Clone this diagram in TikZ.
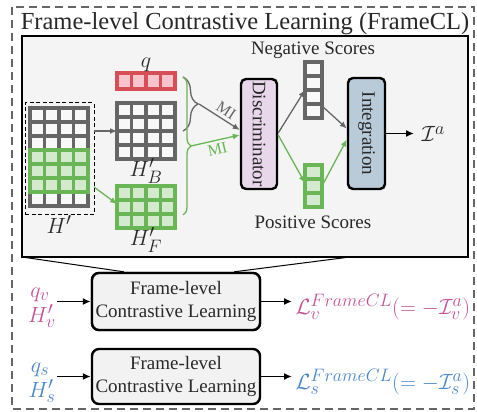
\RequirePackage{fix-cm}
\documentclass[tikz,border=0pt]{standalone}
\usepackage[no-math]{fontspec}
\setmainfont{Liberation Serif}
\usepackage{amsmath}
\usepackage{amssymb}
\usetikzlibrary{arrows.meta,calc,decorations.pathreplacing}
\DeclareMathSizes{22}{22}{18}{13}

\definecolor{lgray}{RGB}{102,102,102}
\definecolor{lgreen}{RGB}{106,182,86}
\definecolor{pgreen}{RGB}{212,234,206}
\definecolor{lred}{RGB}{214,78,86}
\definecolor{pred}{RGB}{248,196,204}
\definecolor{discfill}{RGB}{232,214,234}
\definecolor{intfill}{RGB}{185,202,216}
\definecolor{panel}{RGB}{244,244,244}
\definecolor{cellfill}{RGB}{248,248,248}
\definecolor{boxfill}{RGB}{242,242,242}
\definecolor{txt}{RGB}{40,40,40}
\definecolor{vpink}{RGB}{196,84,150}
\definecolor{sblue}{RGB}{74,136,200}

\tikzset{
  every node/.style={font=\fontsize{19}{23}\selectfont, text=txt},
  mathlab/.style={font=\fontsize{22}{26}\selectfont},
  milab/.style={font=\fontsize{16}{18}\selectfont, inner sep=3pt},
  cellgray/.style={draw=lgray, line width=3.2, fill=cellfill},
  cellgreen/.style={draw=lgreen, line width=3.2, fill=pgreen},
  cellred/.style={draw=lred, line width=3.2, fill=pred},
  blk/.style={inner sep=0, outer sep=0, draw=none},
  blockbox/.style={draw=black, line width=2.4, rounded corners=5pt, inner sep=0},
  fclbox/.style={draw=black, line width=2.4, rounded corners=7pt, fill=boxfill,
    minimum width=168pt, align=center, inner sep=0},
  garrow/.style={draw=lgray, line width=1.3, -{Latex[length=7pt,width=6pt]}},
  grarrow/.style={draw=lgreen, line width=1.3, -{Latex[length=7pt,width=6pt]}},
  barrow/.style={draw=black, line width=1.6, -{Latex[length=8pt,width=7pt]}},
}

\begin{document}
\begin{tikzpicture}[x=1pt,y=1pt,yscale=-1,xscale=1]
\useasboundingbox (0,0) rectangle (477,412);
%Outer dashed frame
\draw[lgray, line width=2, dash pattern=on 8pt off 5pt] (12,7) rectangle (474,409);
% Text Node
\node[anchor=base, font=\fontsize{24.5}{28}\selectfont] (title) at (245,30) {Frame-level Contrastive Learning (FrameCL)};
%Shape: Panel
\node[blk, draw=black, line width=1.5, fill=panel, minimum width=446pt, minimum height=221pt] (panel) at (245,146.5) {};

%Shape: H' block
\node[blk, draw=black, line width=1, dash pattern=on 4pt off 2.5pt, minimum width=69pt, minimum height=111pt] (Hbox) at (59.5,158.5) {};
\foreach \i in {0,...,3}
  \foreach \j in {0,...,6}
    \draw[cellgray] (30+\i*14.5,108+\j*14) rectangle ++(14.5,14);
\foreach \i in {0,...,3}
  \foreach \j in {3,...,5}
    \draw[cellgreen] (30+\i*14.5,108+\j*14) rectangle ++(14.5,14);

%Shape: q bar, H'_B, H'_F
\node[blk, minimum width=58pt, minimum height=16pt] (qbar) at (146,81) {};
\node[blk, minimum width=58pt, minimum height=56pt] (HB) at (146,131) {};
\node[blk, minimum width=58pt, minimum height=42pt] (HF) at (146,207) {};
\foreach \i in {0,...,3}
  \draw[cellred] ($(qbar.north west)+(\i*14.5,0)$) rectangle ++(14.5,16);
\foreach \i in {0,...,3}
  \foreach \j in {0,...,3}
    \draw[cellgray] ($(HB.north west)+(\i*14.5,\j*14)$) rectangle ++(14.5,14);
\foreach \i in {0,...,3}
  \foreach \j in {0,...,2}
    \draw[cellgreen] ($(HF.north west)+(\i*14.5,\j*14)$) rectangle ++(14.5,14);

% Text Node
\node[mathlab, anchor=base] (qlab) at (146,68) {$q$};
\node[mathlab, anchor=base] (HBlab) at (146,176) {$H'_B$};
\node[mathlab, anchor=base] (HFlab) at (146,245) {$H'_F$};
\node[mathlab, anchor=base] (Hlab) at (59,233) {$H'$};

%Straight Lines
\draw[garrow] (Hbox.east |- HB.west) -- (HB.west);
\draw[grarrow] ($(Hbox.north east)+(0,84)$) -- ($(HF.west)+(0,-3)$);

%Braces
\draw[lgray, line width=1.3, decorate, decoration={brace, amplitude=15pt}] (183,77) -- (183,131);
\draw[lgreen, line width=1.3, decorate, decoration={brace, amplitude=8pt}] (183,77) -- (183,215);
\coordinate (gtip) at (199,104);
\coordinate (ltip) at (191,146);

%Shape: Discriminator, Integration
\node[blockbox, fill=discfill, minimum width=36pt, minimum height=110pt] (disc) at (259,134) {\rotatebox{-90}{Discriminator}};
\node[blockbox, fill=intfill, minimum width=37pt, minimum height=111pt] (int) at (366.5,133.5) {\rotatebox{-90}{Integration}};

%Shape: score columns
\node[blk, minimum width=17pt, minimum height=56pt] (neg) at (313.5,90) {};
\node[blk, minimum width=17pt, minimum height=42pt] (pos) at (313.5,186) {};
\foreach \j in {0,...,3}
  \draw[cellgray] ($(neg.north west)+(0,\j*14)$) rectangle ++(17,14);
\foreach \j in {0,...,2}
  \draw[cellgreen] ($(pos.north west)+(0,\j*14)$) rectangle ++(17,14);
% Text Node
\node[anchor=base] (negl) at (313,55) {Negative Scores};
\node[anchor=base] (posl) at (313,228) {Positive Scores};
\node[mathlab, anchor=base west] (Ia) at (418,142) {$\mathcal{I}^a$};

%Straight Lines
\draw[garrow] (gtip) -- ($(disc.west)+(0,-4)$) node[pos=0.55, anchor=south, rotate=-33, milab, text=lgray] {MI};
\draw[grarrow] (ltip) -- ($(disc.west)+(0,1)$) node[pos=0.5, anchor=north, rotate=13, milab, text=lgreen] {MI};
\draw[garrow] ($(disc.east)+(0,-1)$) -- (neg.west);
\draw[garrow] ($(neg.east)+(0,16)$) -- ($(int.west)+(0,-5)$);
\draw[grarrow] ($(disc.east)+(0,1)$) -- ($(pos.west)+(0,-3)$);
\draw[grarrow] (pos.east) -- ($(int.west)+(0,6)$);
\draw[barrow, shorten >=4pt] (int.east) -- (int.east -| Ia.west);

%Zoom lines
\node[fclbox, minimum height=57pt] (fclv) at (176,301.5) {Frame-level\\Contrastive Learning};
\draw[black, line width=1] (panel.south west) -- ($(fclv.north west)+(33,0)$);
\draw[black, line width=1] ($(panel.south west)+(328,0)$) -- ($(fclv.north east)+(-27,0)$);
\node[fclbox, minimum height=57pt] at (fclv) {Frame-level\\Contrastive Learning};
\node[fclbox, minimum height=55pt] (fcls) at (176,376.5) {Frame-level\\Contrastive Learning};

% Text Node
\node[mathlab, anchor=base, text=vpink] (qv) at (40,297) {$q_v$};
\node[mathlab, anchor=base, text=vpink] (Hv) at (42,322) {$H'_v$};
\node[mathlab, anchor=base, text=sblue] (qs) at (40,372) {$q_s$};
\node[mathlab, anchor=base, text=sblue] (Hs) at (42,397) {$H'_s$};
\node[mathlab, anchor=base west, text=vpink] (Lv) at (292,314) {$\mathcal{L}_v^{FrameCL}(=-\mathcal{I}_v^a)$};
\node[mathlab, anchor=base west, text=sblue] (Ls) at (292,389) {$\mathcal{L}_s^{FrameCL}(=-\mathcal{I}_s^a)$};
\coordinate (inv) at (57,301.5);
\coordinate (ins) at (57,376.5);

%Straight Lines
\draw[barrow] (inv) -- (fclv.west);
\draw[barrow] (ins) -- (fcls.west);
\draw[barrow] (fclv.east) -- (fclv.east -| Lv.west);
\draw[barrow] (fcls.east) -- (fcls.east -| Ls.west);
\end{tikzpicture}
\end{document}
